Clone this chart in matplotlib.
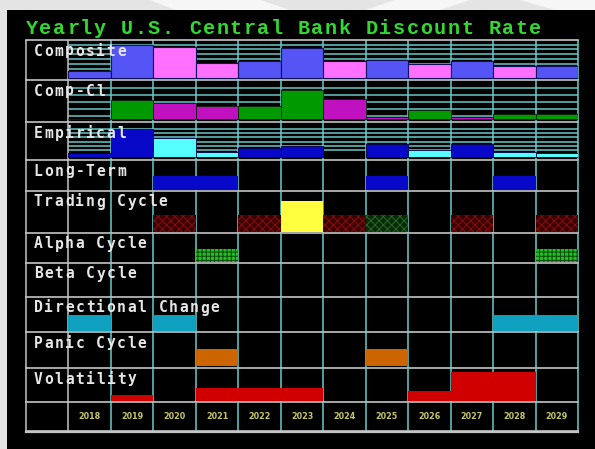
import numpy as np
import matplotlib
matplotlib.use('Agg')
import matplotlib.pyplot as plt
from matplotlib.patches import Rectangle, Polygon

# data
years = ['2018', '2019', '2020', '2021', '2022', '2023',
         '2024', '2025', '2026', '2027', '2028', '2029']
row_labels = ['Composite', 'Comp-Cl', 'Empirical', 'Long-Term', 'Trading Cycle',
              'Alpha Cycle', 'Beta Cycle', 'Directional Change', 'Panic Cycle', 'Volatility']

composite = [7, 33, 31, 15, 17, 30, 17, 18, 14, 17, 12, 12]
composite_col = ['b', 'b', 'p', 'p', 'b', 'b', 'p', 'b', 'p', 'b', 'p', 'b']
comp_cl = [0, 19, 16, 13, 13, 29, 20, 2, 9, 2, 5, 5]
comp_cl_col = ['g', 'g', 'm', 'm', 'g', 'g', 'm', 'm', 'g', 'm', 'g', 'g']
empirical = [4, 28, 19, 5, 9, 11, 0, 13, 7, 13, 5, 4]
empirical_col = ['d', 'd', 'c', 'c', 'd', 'd', 'd', 'd', 'c', 'd', 'c', 'c']
long_term = [0, 0, 14, 14, 0, 0, 0, 14, 0, 0, 14, 0]
trading = [0, 0, 17, 0, 17, 31, 17, 17, 0, 17, 0, 17]
trading_col = ['r', 'r', 'r', 'r', 'r', 'y', 'r', 'g', 'r', 'r', 'r', 'r']
alpha = [0, 0, 0, 13, 0, 0, 0, 0, 0, 0, 0, 13]
beta = [0] * 12
directional = [16, 0, 16, 0, 0, 0, 0, 0, 0, 0, 16, 16]
panic = [0, 0, 0, 17, 0, 0, 0, 17, 0, 0, 0, 0]
volatility = [0, 6, 0, 13, 13, 13, 0, 0, 10, 29, 29, 0]

W, H = 595, 449
CYAN = '#66cccc'
GRID = '#5aa8a8'
WHITE = '#c4c4c4'

palette = {'b': '#5555f5', 'p': '#ff70ff', 'g': '#009a00', 'm': '#c010c0',
           'd': '#0808c8', 'c': '#55ffff'}

fig = plt.figure(figsize=(W / 100, H / 100), dpi=100, facecolor='#e4e4e4')
# light watermark shapes in the top band, then the black panel
for pts in [[(150, 0), (260, 0), (290, 10), (175, 10)],
            [(395, 0), (470, 0), (440, 10), (365, 10)],
            [(520, 0), (595, 0), (595, 10), (555, 10)]]:
    fig.add_artist(Polygon([(x / W, 1 - y / H) for x, y in pts], closed=True,
                           transform=fig.transFigure, color='#f6f6f6', lw=0, zorder=-3))
fig.add_artist(Rectangle((7 / W, 0), 1 - 7 / W, 1 - 10 / H,
                         transform=fig.transFigure, color='black', lw=0, zorder=-2))

row_h = [40, 42, 38, 31, 42, 30, 34, 35, 36, 34, 29]
base = [1.7, 3, 3, 1, 1, 1, 1, 1, 2, 1, 0]

gs = fig.add_gridspec(len(row_h), 1, height_ratios=row_h, hspace=0,
                      left=26 / W, right=578 / W, top=1 - 40 / H, bottom=1 - 431 / H)
axes = [fig.add_subplot(gs[i]) for i in range(len(row_h))]
x = np.arange(12)

for i, ax in enumerate(axes):
    ax.set_xlim(-1, 12)
    ax.set_ylim(-base[i], row_h[i] - base[i])
    ax.axis('off')
    ax.patch.set_alpha(0)
    lo, hi = -base[i], row_h[i] - base[i]
    ax.vlines(np.arange(1, 13), lo, hi, color=CYAN, lw=1.1, zorder=2, clip_on=False)
    ax.vlines([-1, 0], lo, hi, color=WHITE, lw=1.1, zorder=2, clip_on=False)
    ax.axhline(lo, color=WHITE, lw=1.2, zorder=5, clip_on=False)
    if i == 0:
        ax.axhline(hi, color=WHITE, lw=1.2, zorder=5, clip_on=False)
axes[-1].axhline(-0.8, color=WHITE, lw=1.6, zorder=5, clip_on=False)

# background level lines in the three top rows
axes[0].hlines(np.arange(4.4, 36, 4.9), 0, 12, color=GRID, lw=1.3, zorder=1)
axes[1].hlines(np.arange(3, 35, 7), 0, 12, color=GRID, lw=1.3, zorder=1)
axes[2].hlines(np.arange(6.5, 31, 4.4), 0, 12, color=GRID, lw=1.3, zorder=1)

bar_kw = dict(width=1, align='edge', zorder=3)
axes[0].bar(x, composite, color=[palette[c] for c in composite_col],
            edgecolor='#10105a', lw=0.8, **bar_kw)
axes[1].bar(x, comp_cl, color=[palette[c] for c in comp_cl_col],
            edgecolor='#102010', lw=0.6, **bar_kw)
e_vals = [v for v in empirical]
axes[2].bar(x, e_vals, color=[palette[c] for c in empirical_col],
            edgecolor=['#000040' if v else 'none' for v in empirical], lw=0.6, **bar_kw)
axes[3].bar(x, long_term, color='#0808c8', lw=0, **bar_kw)

plt.rcParams['hatch.linewidth'] = 0.7
trade_face = {'r': '#3a0000', 'g': '#0a2a0a', 'y': '#ffff40'}
trade_hatch = {'r': '#8a0c0c', 'g': '#246a24', 'y': '#ffff40'}
for xi, v, c in zip(x, trading, trading_col):
    if v:
        axes[4].bar(xi, v, color=trade_face[c], edgecolor=trade_hatch[c],
                    hatch=None if c == 'y' else 'xxxx', lw=0, **bar_kw)
axes[5].bar(x, alpha, color='#22c022', edgecolor='#0a4a0a', hatch='++++', lw=0, **bar_kw)
axes[6].bar(x, beta, color='#22c022', lw=0, **bar_kw)
axes[7].bar(x, directional, color='#10a0c0', lw=0, **bar_kw)
axes[8].bar(x, panic, color='#cc6400', lw=0, **bar_kw)
axes[9].bar(x, volatility, color='#d00000', lw=0, **bar_kw)

# year labels along the bottom row
for xi, yr in zip(x, years):
    axes[10].text(xi + 0.5, row_h[10] / 2, yr, ha='center', va='center',
                  fontsize=5.8, fontweight='bold', color='#c8c864', family='DejaVu Sans')


def spaced(x0, yc, s, pitch, **kw):
    # fixed-pitch text, one character at a time
    for k, ch in enumerate(s):
        if ch != ' ':
            fig.text((x0 + pitch * (k + 0.5)) / W, 1 - yc / H, ch,
                     ha='center', va='center', **kw)


spaced(25, 29, 'Yearly U.S. Central Bank Discount Rate', 13.6,
       fontsize=14.5, fontweight='bold', color='#30d830', family='Liberation Mono')

tops = np.cumsum([40] + row_h)
for lab, t in zip(row_labels, tops[:-2]):
    spaced(33, t + 11, lab, 10.4, fontsize=10.5, fontweight='bold',
           color='#e6e6e6', family='DejaVu Sans Mono', zorder=10)

fig.savefig('out.png', dpi=100, facecolor=fig.get_facecolor())
